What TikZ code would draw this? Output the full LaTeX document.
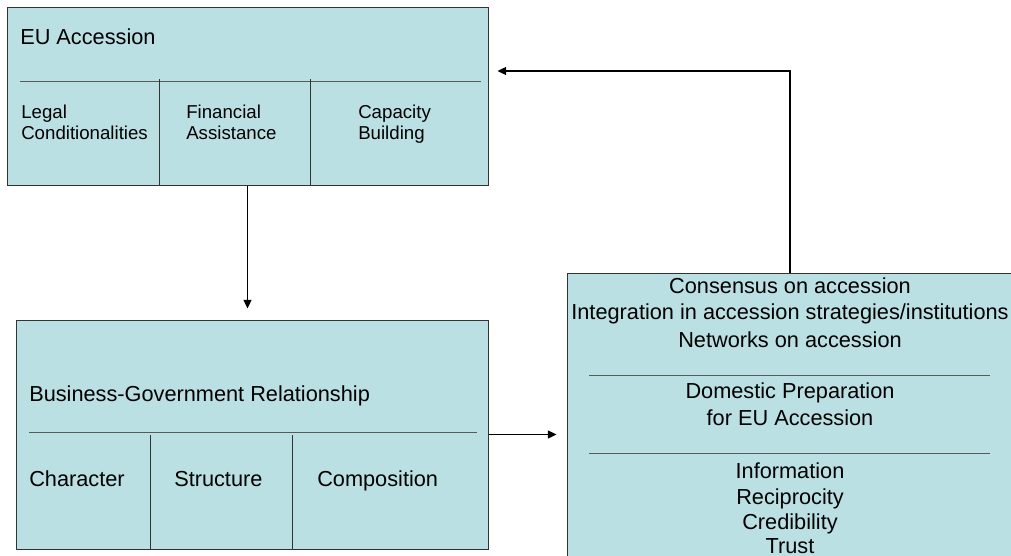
\documentclass[tikz,border=0pt]{standalone}
\usepackage{fontspec}
\setmainfont{Liberation Sans}
\usetikzlibrary{arrows.meta,fit}
\definecolor{boxfill}{RGB}{187,224,227}
\begin{document}
\begin{tikzpicture}[x=0.75pt,y=-0.75pt,
  box/.style={draw=black!80, fill=boxfill, line width=0.75pt, inner sep=0pt},
  big/.style={font=\fontsize{16.3pt}{19pt}\selectfont, inner sep=0pt},
  small/.style={font=\fontsize{14pt}{16pt}\selectfont, inner sep=0pt},
  divider/.style={draw=black!80, line width=0.75pt},
  rulel/.style={draw=black!65, line width=0.5pt},
  arr/.style={draw=black, line width=0.9pt, -{Triangle[length=6.5pt,width=6pt]}}]
\clip (0,0) rectangle (1011,556);
\fill[white] (0,0) rectangle (1011,556);

% EU Accession box
\node[box, fit={(7,8) (488,186)}] (eu) {};
\draw[rulel] (20,81) -- (481,81);
\draw[divider] (159,79) -- (159,186);
\draw[divider] (310,79) -- (310,186);
\node[big, anchor=base west] (eut) at (20,45) {EU Accession};
\node[small, anchor=base west] (l1) at (21,119) {Legal};
\node[small, anchor=base west] (l2) at (21,140) {Conditionalities};
\node[small, anchor=base west] (f1) at (186,119) {Financial};
\node[small, anchor=base west] (f2) at (186,140) {Assistance};
\node[small, anchor=base west] (c1) at (358,119) {Capacity};
\node[small, anchor=base west] (c2) at (358,140) {Building};

% Business-Government box
\node[box, fit={(16,320) (488,549)}] (bg) {};
\draw[rulel] (29,432) -- (477,432);
\draw[divider] (150,435) -- (150,549);
\draw[divider] (292,435) -- (292,549);
\node[big, anchor=base west] (bgt) at (29,401) {Business-Government Relationship};
\node[big, anchor=base west] (ch) at (29,486) {Character};
\node[big, anchor=base west] (st) at (174,486) {Structure};
\node[big, anchor=base west] (co) at (317,486) {Composition};

% Domestic preparation box
\node[box, fit={(567,274) (1013,575)}] (dp) {};
\draw[rulel] (589,375) -- (990,375);
\draw[rulel] (589,453) -- (990,453);
\node[big, anchor=base] (d1) at (790,293) {Consensus on accession};
\node[big, anchor=base] (d2) at (790,320) {Integration in accession strategies/institutions};
\node[big, anchor=base] (d3) at (790,347) {Networks on accession};
\node[big, anchor=base] (d4) at (790,398) {Domestic Preparation};
\node[big, anchor=base] (d5) at (790,425) {for EU Accession};
\node[big, anchor=base] (d6) at (790,478) {Information};
\node[big, anchor=base] (d7) at (790,504) {Reciprocity};
\node[big, anchor=base] (d8) at (790,529) {Credibility};
\node[big, anchor=base] (d9) at (790,553) {Trust};

% connectors
\draw[arr, shorten >=8.25pt] (eu.south) -- (eu.south |- bg.north);
\draw[arr, shorten >=7.5pt] (bg.east) -- (dp.west |- bg.east);
\coordinate (fb) at (790,71);
\draw[arr, shorten >=6.75pt] (dp.north) -- (fb) -- (eu.east |- fb);
\end{tikzpicture}
\end{document}
